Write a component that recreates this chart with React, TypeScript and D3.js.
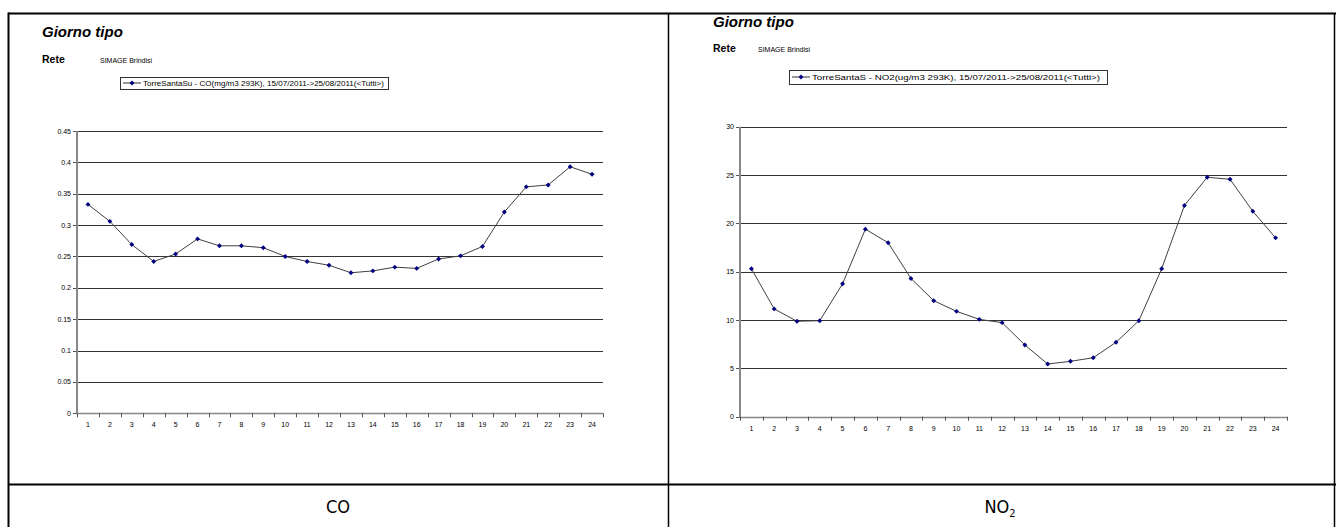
import React from "react";
import * as d3 from "d3";

const hours = ["1","2","3","4","5","6","7","8","9","10","11","12","13","14","15","16","17","18","19","20","21","22","23","24"];
const coValues = [0.333,0.306,0.269,0.242,0.254,0.278,0.267,0.267,0.264,0.250,0.242,0.236,0.224,0.227,0.233,0.231,0.246,0.251,0.266,0.321,0.361,0.364,0.393,0.381];
const no2Values = [15.3,11.15,9.87,9.93,13.75,19.4,18.0,14.3,12.0,10.9,10.07,9.73,7.42,5.45,5.73,6.1,7.7,9.93,15.3,21.85,24.77,24.56,21.25,18.5];
const coTicks = [0,0.05,0.1,0.15,0.2,0.25,0.3,0.35,0.4,0.45];
const no2Ticks = [0,5,10,15,20,25,30];
const coLegend = "TorreSantaSu - CO(mg/m3 293K), 15/07/2011->25/08/2011(<Tutti>)";
const no2Legend = "TorreSantaS - NO2(ug/m3 293K), 15/07/2011->25/08/2011(<Tutti>)";
const titleText = "Giorno tipo";
const reteText = "Rete";
const networkText = "SIMAGE Brindisi";

type Layout = {
  titleX: number; titleY: number; reteY: number; netX: number;
  lx: number; ly: number; lw: number; lh: number; textLen: number;
  px0: number; px1: number; pyTop: number; pyBottom: number;
};

const FONT = "'Liberation Sans', Arial, sans-serif";

function Chart({ values, ticks, legend, L, fmt }: { values: number[]; ticks: number[]; legend: string; L: Layout; fmt: (v: number) => string }) {
  const x = d3.scaleBand<string>().domain(hours).range([L.px0, L.px1]).padding(0);
  const y = d3.scaleLinear().domain([ticks[0], ticks[ticks.length - 1]]).range([L.pyBottom, L.pyTop]);
  const cx = (i: number) => (x(hours[i]) as number) + x.bandwidth() / 2;
  const line = d3.line<number>().x((_, i) => cx(i)).y((d) => y(d))(values) || "";
  const marker = d3.symbol().type(d3.symbolSquare).size(12)() || "";
  const legendY = L.ly + L.lh / 2;
  const boundaries = hours.map((h) => x(h) as number).concat([L.px1]);
  return (
    <g>
      <text x={L.titleX} y={L.titleY} fontFamily={FONT} fontSize={15} fontWeight="bold" fontStyle="italic" fill="#000">{titleText}</text>
      <text x={L.titleX} y={L.reteY} fontFamily={FONT} fontSize={10.5} fontWeight="bold" fill="#000">{reteText}</text>
      <text x={L.netX} y={L.reteY} fontFamily={FONT} fontSize={7} fill="#000">{networkText}</text>
      <rect x={L.lx + 0.5} y={L.ly + 0.5} width={L.lw} height={L.lh} fill="#fff" stroke="#333" strokeWidth={1} />
      <line x1={L.lx + 3} x2={L.lx + 21} y1={legendY} y2={legendY} stroke="#333" strokeWidth={1} />
      <path d={marker} transform={`translate(${L.lx + 12},${legendY}) rotate(45)`} fill="#000080" />
      <text x={L.lx + 23} y={legendY + 2.5} fontFamily={FONT} fontSize={7} fill="#000" textLength={L.textLen} lengthAdjust="spacingAndGlyphs">{legend}</text>
      {ticks.map((t) => (
        <g key={t}>
          {t !== ticks[0] && <line x1={L.px0} x2={L.px1} y1={Math.round(y(t)) + 0.5} y2={Math.round(y(t)) + 0.5} stroke="#333" strokeWidth={1} />}
          <line x1={L.px0 - 4} x2={L.px0} y1={Math.round(y(t)) + 0.5} y2={Math.round(y(t)) + 0.5} stroke="#555" strokeWidth={1} />
          <text x={L.px0 - 6} y={y(t) + 2.5} textAnchor="end" fontFamily={FONT} fontSize={7} fill="#000">{fmt(t)}</text>
        </g>
      ))}
      <line x1={L.px0} x2={L.px1} y1={Math.round(L.pyBottom) + 0.5} y2={Math.round(L.pyBottom) + 0.5} stroke="#888" strokeWidth={1.5} />
      <line x1={L.px0} x2={L.px0} y1={L.pyTop} y2={L.pyBottom + 1} stroke="#888" strokeWidth={2} />
      {boundaries.map((b, i) => (
        <line key={i} x1={Math.round(b) + 0.5} x2={Math.round(b) + 0.5} y1={L.pyBottom} y2={L.pyBottom + 4} stroke="#555" strokeWidth={1} />
      ))}
      {hours.map((h, i) => (
        <text key={h} x={cx(i)} y={L.pyBottom + 14} textAnchor="middle" fontFamily={FONT} fontSize={7} fill="#000">{h}</text>
      ))}
      <path d={line} fill="none" stroke="#404040" strokeWidth={1} />
      {values.map((v, i) => (
        <path key={i} d={marker} transform={`translate(${cx(i)},${y(v)}) rotate(45)`} fill="#000080" />
      ))}
    </g>
  );
}

const leftL: Layout = {
  titleX: 42, titleY: 37, reteY: 63, netX: 100,
  lx: 120, ly: 77, lw: 268, lh: 12, textLen: 241,
  px0: 77, px1: 603, pyTop: 131, pyBottom: 413.3,
};
const rightL: Layout = {
  titleX: 713, titleY: 27, reteY: 52, netX: 758,
  lx: 789, ly: 70, lw: 318, lh: 14, textLen: 288,
  px0: 740, px1: 1287, pyTop: 126.7, pyBottom: 416.7,
};

export default function App() {
  const fmtCo = (v: number) => (v === 0 ? "0" : String(+v.toFixed(2)));
  const fmtNo2 = (v: number) => String(v);
  const capFont = "'DejaVu Sans Condensed', 'DejaVu Sans', sans-serif";
  return (
    <svg width={1336} height={527} style={{ position: "absolute", left: 0, top: 0, background: "#fff" }}>
      <rect x={0} y={0} width={1336} height={527} fill="#fff" />
      <Chart values={coValues} ticks={coTicks} legend={coLegend} L={leftL} fmt={fmtCo} />
      <Chart values={no2Values} ticks={no2Ticks} legend={no2Legend} L={rightL} fmt={fmtNo2} />
      <line x1={8} x2={1336} y1={13.5} y2={13.5} stroke="#000" strokeWidth={2} />
      <line x1={8.5} x2={8.5} y1={12.5} y2={527} stroke="#000" strokeWidth={2} />
      <line x1={668.5} x2={668.5} y1={13} y2={527} stroke="#000" strokeWidth={1.5} />
      <line x1={1334.5} x2={1334.5} y1={13} y2={527} stroke="#000" strokeWidth={1.5} />
      <line x1={8} x2={1336} y1={484.5} y2={484.5} stroke="#000" strokeWidth={2} />
      <text x={338} y={513} textAnchor="middle" fontFamily={capFont} fontSize={18} fill="#000">CO</text>
      <text x={1000} y={513} textAnchor="middle" fontFamily={capFont} fontSize={18} fill="#000">
        NO<tspan fontSize={11} dy={4}>2</tspan>
      </text>
    </svg>
  );
}
